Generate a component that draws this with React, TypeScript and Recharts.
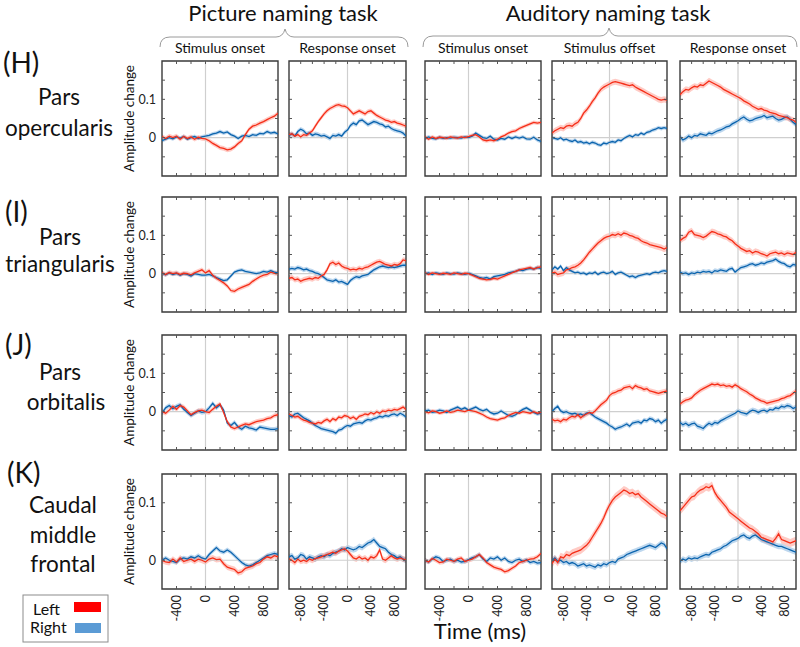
import { Area, ComposedChart, Line, ReferenceArea, ReferenceLine, XAxis, YAxis } from "recharts"

const FONT = "Lato, 'Noto Sans', sans-serif"

// time axes (ms): stimulus-locked and response/offset-locked panels
const tOnset = [
  -600, -550, -500, -450, -400, -350, -300, -250, -200, -150,
  -100, -50, 0, 50, 100, 150, 200, 250, 300, 350,
  400, 450, 500, 550, 600, 650, 700, 750, 800, 850,
  900, 950, 1000,
]
const tLocked = [
  -1000, -950, -900, -850, -800, -750, -700, -650, -600, -550,
  -500, -450, -400, -350, -300, -250, -200, -150, -100, -50,
  0, 50, 100, 150, 200, 250, 300, 350, 400, 450,
  500, 550, 600, 650, 700, 750, 800, 850, 900, 950,
  1000,
]

const columnTitles = ["Stimulus onset", "Response onset", "Stimulus onset", "Stimulus offset", "Response onset"]
const onsetTicks = [-400, -200, 0, 200, 400, 600, 800]
const lockedTicks = [-800, -600, -400, -200, 0, 200, 400, 600, 800]
const onsetLabels = [-400, 0, 400, 800]
const lockedLabels = [-800, -400, 0, 400, 800]
const yTicksWide = [-0.05, 0, 0.05, 0.1, 0.15]
const yTicksNarrow = [0, 0.05, 0.1]
const yLabelValues = [0, 0.1]

// (H) Pars opercularis
const opercularisLeft = [
  [0.003, -0.002, 0.004, 0, 0.004, -0.004, 0.003, -0.002, 0.002, -0.004,
   0.001, -0.002, -0.003, -0.008, -0.015, -0.02, -0.026, -0.028, -0.032, -0.03,
   -0.024, -0.015, -0.008, 0.008, 0.022, 0.03, 0.033, 0.038, 0.042, 0.047,
   0.052, 0.056, 0.064],
  [0.008, 0.01, 0.004, 0.008, 0.002, 0.008, 0.006, 0.012, 0.018, 0.03,
   0.042, 0.052, 0.062, 0.07, 0.076, 0.08, 0.084, 0.086, 0.083, 0.082,
   0.078, 0.07, 0.062, 0.066, 0.07, 0.066, 0.062, 0.068, 0.07, 0.064,
   0.058, 0.054, 0.05, 0.046, 0.044, 0.04, 0.042, 0.038, 0.036, 0.033,
   0.03],
  [0.002, -0.004, 0.002, -0.002, 0.001, 0, -0.002, 0.002, 0, -0.001,
   0.002, 0, 0.003, 0.006, 0.008, 0.002, -0.006, -0.008, -0.006, -0.008,
   -0.004, 0.002, 0.006, 0.012, 0.016, 0.018, 0.024, 0.028, 0.032, 0.036,
   0.04, 0.038, 0.04],
  [0.012, 0.018, 0.022, 0.026, 0.024, 0.03, 0.032, 0.03, 0.036, 0.04,
   0.05, 0.064, 0.072, 0.082, 0.094, 0.104, 0.116, 0.126, 0.132, 0.136,
   0.14, 0.144, 0.146, 0.144, 0.142, 0.14, 0.138, 0.136, 0.138, 0.132,
   0.128, 0.124, 0.12, 0.116, 0.112, 0.108, 0.104, 0.1, 0.098, 0.1,
   0.098],
  [0.112, 0.12, 0.126, 0.124, 0.13, 0.134, 0.132, 0.138, 0.136, 0.142,
   0.148, 0.144, 0.14, 0.136, 0.132, 0.126, 0.122, 0.118, 0.114, 0.11,
   0.106, 0.102, 0.096, 0.092, 0.088, 0.082, 0.078, 0.074, 0.076, 0.072,
   0.07, 0.066, 0.064, 0.062, 0.058, 0.056, 0.054, 0.052, 0.048, 0.046,
   0.04],
]
const opercularisRight = [
  [-0.008, -0.004, 0, -0.003, 0.002, -0.001, 0.003, -0.004, 0, 0.003,
   -0.002, 0.002, 0.004, 0.006, 0.01, 0.012, 0.016, 0.012, 0.015, 0.008,
   0.004, -0.002, 0.004, 0.006, 0.003, 0.008, 0.006, 0.011, 0.01, 0.016,
   0.012, 0.014, 0.01],
  [0.006, 0.01, 0.004, 0.016, 0.022, 0.018, 0.01, 0.012, 0.006, 0.01,
   0.008, 0.004, 0.006, 0.002, -0.002, 0.006, 0.004, 0.008, 0.004, 0.014,
   0.02, 0.032, 0.038, 0.034, 0.044, 0.046, 0.04, 0.034, 0.038, 0.042,
   0.04, 0.036, 0.034, 0.028, 0.03, 0.024, 0.02, 0.018, 0.016, 0.012,
   0.004],
  [-0.002, 0.002, -0.002, -0.003, 0.001, -0.002, 0, -0.001, 0.001, 0,
   -0.001, 0.002, 0, 0.004, 0.012, 0.006, 0, -0.002, 0.004, -0.004,
   -0.006, -0.002, -0.004, 0.002, -0.002, 0.002, -0.001, 0.002, -0.003, -0.004,
   0.001, -0.006, -0.01],
  [0, -0.002, -0.004, 0, -0.006, -0.004, -0.008, -0.01, -0.006, -0.012,
   -0.01, -0.014, -0.012, -0.016, -0.012, -0.014, -0.018, -0.02, -0.014, -0.016,
   -0.012, -0.01, -0.012, -0.006, -0.008, -0.002, 0.002, 0.006, 0.002, 0.008,
   0.006, 0.012, 0.008, 0.014, 0.016, 0.02, 0.022, 0.026, 0.024, 0.026,
   0.024],
  [0.002, -0.006, -0.002, 0.004, 0, 0.006, 0.004, 0.01, 0.008, 0.006,
   0.012, 0.01, 0.014, 0.018, 0.02, 0.024, 0.028, 0.03, 0.036, 0.04,
   0.044, 0.05, 0.054, 0.048, 0.044, 0.046, 0.05, 0.052, 0.054, 0.058,
   0.052, 0.054, 0.056, 0.05, 0.046, 0.048, 0.052, 0.054, 0.048, 0.04,
   0.034],
]

// (I) Pars triangularis
const triangularisLeft = [
  [0.002, -0.002, 0.003, 0, 0.002, -0.002, 0.001, 0, -0.003, 0.002,
   0.006, 0.01, 0.002, 0.008, -0.004, -0.012, -0.018, -0.024, -0.032, -0.044,
   -0.046, -0.04, -0.036, -0.032, -0.028, -0.02, -0.014, -0.008, -0.004, -0.002,
   0.004, 0.001, 0],
  [-0.012, -0.01, -0.016, -0.014, -0.02, -0.016, -0.014, -0.012, -0.014, -0.01,
   -0.012, -0.006, -0.002, 0.01, 0.026, 0.03, 0.024, 0.028, 0.02, 0.016,
   0.014, 0.01, 0.012, 0.01, 0.014, 0.012, 0.016, 0.018, 0.022, 0.026,
   0.03, 0.032, 0.028, 0.024, 0.022, 0.02, 0.024, 0.022, 0.026, 0.036,
   0.034],
  [0.002, -0.002, 0.002, 0, -0.002, 0.001, 0, -0.002, 0.002, 0,
   -0.002, 0.001, 0, -0.004, -0.008, -0.012, -0.014, -0.016, -0.015, -0.012,
   -0.014, -0.01, -0.006, -0.002, 0.002, 0.006, 0.01, 0.012, 0.014, 0.016,
   0.012, 0.016, 0.018],
  [0.002, 0.004, -0.002, 0, 0.002, 0.01, 0.012, 0.016, 0.018, 0.022,
   0.028, 0.036, 0.046, 0.056, 0.064, 0.072, 0.08, 0.086, 0.092, 0.096,
   0.098, 0.102, 0.1, 0.104, 0.1, 0.106, 0.104, 0.1, 0.098, 0.094,
   0.092, 0.086, 0.082, 0.08, 0.076, 0.074, 0.072, 0.07, 0.068, 0.064,
   0.068],
  [0.086, 0.092, 0.096, 0.108, 0.112, 0.102, 0.1, 0.098, 0.094, 0.098,
   0.104, 0.11, 0.108, 0.104, 0.102, 0.098, 0.096, 0.09, 0.086, 0.078,
   0.072, 0.066, 0.062, 0.058, 0.06, 0.054, 0.058, 0.056, 0.052, 0.05,
   0.046, 0.052, 0.054, 0.056, 0.052, 0.054, 0.05, 0.054, 0.052, 0.05,
   0.056],
]
const triangularisRight = [
  [0.001, -0.003, 0.002, -0.002, 0.001, -0.004, 0, -0.002, -0.006, 0,
   -0.002, -0.004, -0.004, -0.002, -0.006, -0.01, -0.014, -0.018, -0.016, -0.006,
   0.004, 0.008, 0.01, 0.006, 0.004, 0.002, 0, 0.002, 0.006, 0.004,
   0.008, 0.004, 0.002],
  [0.012, 0.014, 0.012, 0.016, 0.014, 0.01, 0.012, 0.008, 0.006, 0.002,
   0, -0.004, -0.01, -0.016, -0.018, -0.02, -0.016, -0.022, -0.02, -0.024,
   -0.028, -0.018, -0.012, -0.008, -0.01, -0.006, -0.004, -0.002, 0.004, 0.01,
   0.014, 0.018, 0.02, 0.018, 0.016, 0.018, 0.016, 0.018, 0.02, 0.022,
   0.022],
  [0, 0.002, -0.002, 0.002, 0, -0.002, 0.002, 0, -0.001, 0.002,
   0, -0.002, 0.001, -0.002, -0.006, -0.01, -0.012, -0.01, -0.014, -0.008,
   -0.006, -0.004, -0.002, 0.002, 0.004, 0.006, 0.01, 0.008, 0.012, 0.014,
   0.012, 0.016, 0.014],
  [0.01, 0.018, 0.012, 0.02, 0.008, 0.016, 0.01, 0.006, 0.002, 0.004,
   0, 0.002, -0.002, 0.002, 0, 0.004, -0.002, 0.002, 0.004, 0,
   0.002, 0.006, -0.002, 0.002, 0.004, 0, -0.004, -0.008, -0.006, -0.01,
   -0.006, -0.004, -0.002, 0, -0.002, 0.002, 0.004, 0.002, 0.006, 0.008,
   0.006],
  [0.004, 0, 0.002, -0.002, 0.002, 0, 0.004, 0.002, 0.006, 0.004,
   0.006, 0.002, 0.008, 0.006, 0.01, 0.008, 0.006, 0.012, 0.014, 0.004,
   0.01, 0.016, 0.018, 0.02, 0.024, 0.026, 0.022, 0.024, 0.028, 0.026,
   0.03, 0.032, 0.034, 0.038, 0.032, 0.028, 0.026, 0.02, 0.018, 0.024,
   0.022],
]

// (J) Pars orbitalis
const orbitalisLeft = [
  [0, -0.004, 0.004, 0.014, 0.006, 0.016, 0.012, 0.002, -0.008, -0.002,
   0.002, 0.004, 0, -0.002, 0.006, 0.014, 0.02, -0.002, -0.026, -0.04,
   -0.044, -0.04, -0.036, -0.032, -0.034, -0.03, -0.026, -0.024, -0.022, -0.018,
   -0.016, -0.01, -0.008],
  [-0.006, -0.01, -0.014, -0.012, -0.018, -0.022, -0.024, -0.028, -0.03, -0.032,
   -0.028, -0.03, -0.024, -0.02, -0.026, -0.018, -0.022, -0.014, -0.016, -0.01,
   -0.012, -0.018, -0.014, -0.02, -0.012, -0.01, -0.006, -0.008, -0.002, -0.006,
   0, -0.004, 0.002, 0, 0.004, 0.002, 0.006, 0.004, 0.008, 0.012,
   0.006],
  [0, -0.003, 0.002, 0, -0.004, -0.002, 0.002, -0.002, 0, 0.004,
   0.002, 0, 0.004, 0.002, 0, -0.004, -0.008, -0.014, -0.018, -0.02,
   -0.022, -0.018, -0.016, -0.01, -0.006, -0.002, -0.004, 0, -0.002, -0.004,
   0, -0.004, -0.002],
  [-0.02, -0.024, -0.022, -0.026, -0.02, -0.022, -0.016, -0.012, -0.014, -0.008,
   -0.016, -0.01, -0.006, -0.002, -0.004, 0.002, 0.01, 0.018, 0.024, 0.03,
   0.042, 0.048, 0.05, 0.054, 0.056, 0.062, 0.064, 0.066, 0.06, 0.068,
   0.064, 0.062, 0.058, 0.06, 0.054, 0.052, 0.05, 0.048, 0.05, 0.052,
   0.054],
  [0.02, 0.026, 0.03, 0.032, 0.036, 0.044, 0.05, 0.056, 0.06, 0.064,
   0.068, 0.072, 0.07, 0.072, 0.068, 0.07, 0.066, 0.068, 0.064, 0.07,
   0.066, 0.06, 0.056, 0.052, 0.046, 0.042, 0.036, 0.032, 0.028, 0.026,
   0.022, 0.024, 0.026, 0.028, 0.03, 0.034, 0.036, 0.04, 0.042, 0.048,
   0.054],
]
const orbitalisRight = [
  [-0.004, 0.01, 0.016, 0.008, 0.014, 0.018, 0.006, -0.002, -0.01, -0.004,
   0.002, -0.002, 0, 0.01, 0.022, 0.01, 0.018, 0.004, -0.03, -0.036,
   -0.028, -0.04, -0.046, -0.038, -0.042, -0.044, -0.048, -0.04, -0.042, -0.044,
   -0.046, -0.046, -0.044],
  [-0.01, -0.014, -0.006, -0.004, -0.01, -0.016, -0.02, -0.024, -0.03, -0.036,
   -0.04, -0.044, -0.046, -0.048, -0.05, -0.052, -0.056, -0.048, -0.046, -0.04,
   -0.036, -0.038, -0.032, -0.03, -0.028, -0.03, -0.024, -0.02, -0.022, -0.018,
   -0.016, -0.012, -0.014, -0.01, -0.012, -0.008, -0.006, -0.01, -0.004, -0.008,
   -0.014],
  [0.002, 0.004, -0.002, 0, 0.004, 0.002, -0.002, 0.004, 0.008, 0.012,
   0.006, 0.01, 0.004, 0.008, 0.012, 0.006, 0.002, 0.006, -0.002, -0.006,
   -0.004, 0.002, -0.004, -0.01, -0.012, -0.008, 0, 0.006, 0.01, 0.004,
   -0.002, -0.006, -0.004],
  [0, 0.008, 0.014, 0.002, -0.002, 0, -0.004, -0.006, -0.004, -0.008,
   -0.006, -0.01, -0.004, -0.002, -0.008, -0.014, -0.018, -0.022, -0.026, -0.03,
   -0.036, -0.04, -0.046, -0.042, -0.04, -0.036, -0.032, -0.038, -0.03, -0.028,
   -0.026, -0.03, -0.022, -0.024, -0.018, -0.02, -0.026, -0.022, -0.03, -0.024,
   -0.02],
  [-0.028, -0.034, -0.03, -0.036, -0.032, -0.03, -0.038, -0.04, -0.044, -0.036,
   -0.03, -0.034, -0.028, -0.03, -0.024, -0.02, -0.016, -0.012, -0.008, -0.004,
   0.002, -0.002, -0.004, -0.006, 0, 0.004, 0.002, -0.002, 0.002, 0.004,
   0, 0.006, 0.004, 0.01, 0.008, 0.014, 0.012, 0.016, 0.014, 0.008,
   0.012],
]

// (K) Caudal middle frontal
const caudalLeft = [
  [0, -0.003, -0.004, 0.002, -0.003, 0.004, -0.002, 0, 0.002, -0.002,
   0.002, 0, -0.003, 0.002, 0.004, 0.001, 0.002, -0.006, -0.012, -0.014,
   -0.016, -0.022, -0.02, -0.014, -0.012, -0.01, -0.006, -0.004, 0.002, 0.006,
   0.004, 0.008, 0.006],
  [0.002, 0, -0.004, 0.002, -0.002, 0, -0.002, 0.002, 0, 0.003,
   0.004, 0.006, 0.008, 0.01, 0.012, 0.014, 0.012, 0.016, 0.018, 0.02,
   0.016, 0.01, 0.004, 0.002, 0.006, 0.002, 0.004, 0, 0.006, 0.004,
   0.008, 0.018, 0.002, 0, 0.004, 0.008, 0.004, 0.002, 0.004, 0.002,
   0.001],
  [0, -0.003, 0.003, 0, -0.004, -0.003, 0.002, 0, -0.002, 0.002,
   0.004, -0.002, 0, 0.002, 0.006, 0.01, 0.004, -0.004, -0.008, -0.012,
   -0.014, -0.016, -0.02, -0.018, -0.014, -0.01, -0.004, -0.002, 0, 0.002,
   0.003, 0.006, 0.012],
  [-0.006, 0.002, -0.004, 0.006, 0.004, 0.01, 0.008, 0.012, 0.014, 0.016,
   0.018, 0.022, 0.026, 0.032, 0.04, 0.048, 0.056, 0.064, 0.074, 0.086,
   0.096, 0.104, 0.11, 0.114, 0.118, 0.122, 0.12, 0.116, 0.118, 0.114,
   0.116, 0.11, 0.106, 0.102, 0.098, 0.094, 0.09, 0.086, 0.082, 0.08,
   0.076],
  [0.086, 0.092, 0.098, 0.104, 0.11, 0.112, 0.118, 0.122, 0.124, 0.128,
   0.126, 0.13, 0.118, 0.11, 0.104, 0.098, 0.092, 0.084, 0.08, 0.076,
   0.072, 0.068, 0.064, 0.06, 0.056, 0.054, 0.05, 0.046, 0.04, 0.038,
   0.036, 0.034, 0.032, 0.038, 0.046, 0.036, 0.034, 0.032, 0.03, 0.032,
   0.034],
]
const caudalRight = [
  [0, 0.004, 0, -0.002, -0.004, 0.002, 0.004, 0.002, 0.006, 0.004,
   0.008, 0.004, 0.002, 0.01, 0.016, 0.022, 0.016, 0.014, 0.018, 0.014,
   0.008, 0.002, -0.004, -0.008, -0.01, -0.008, -0.004, 0, 0.004, 0.008,
   0.01, 0.012, 0.01],
  [0.006, 0.008, 0.002, 0.004, 0.01, 0.008, 0.002, 0.006, 0.004, 0.002,
   0.006, 0.008, 0.006, 0.01, 0.008, 0.012, 0.014, 0.016, 0.02, 0.018,
   0.022, 0.02, 0.018, 0.02, 0.024, 0.022, 0.026, 0.03, 0.032, 0.036,
   0.03, 0.024, 0.022, 0.02, 0.014, 0.01, 0.008, 0.004, 0.006, 0.002,
   0],
  [0, -0.003, 0.002, 0.006, 0.004, -0.002, 0, 0.002, -0.002, 0,
   -0.003, -0.002, 0.001, 0.004, 0.006, 0.01, 0.002, -0.002, 0.004, 0.002,
   0.006, 0, 0.004, -0.002, -0.004, 0, 0.002, -0.002, 0.001, -0.004,
   -0.002, -0.005, -0.004],
  [0, 0.004, -0.002, 0, -0.004, -0.002, -0.006, -0.004, -0.006, -0.01,
   -0.008, -0.006, -0.01, -0.008, -0.01, -0.012, -0.008, -0.01, -0.006, -0.008,
   -0.004, -0.002, -0.004, 0.002, 0.004, 0.006, 0.01, 0.012, 0.014, 0.016,
   0.018, 0.02, 0.022, 0.024, 0.026, 0.024, 0.022, 0.026, 0.03, 0.028,
   0.02],
  [-0.002, 0.002, 0, 0.004, 0.002, 0.004, 0.003, 0.006, 0.008, 0.01,
   0.009, 0.014, 0.016, 0.018, 0.02, 0.024, 0.026, 0.03, 0.034, 0.036,
   0.038, 0.042, 0.044, 0.04, 0.038, 0.042, 0.044, 0.04, 0.036, 0.034,
   0.032, 0.03, 0.028, 0.026, 0.024, 0.024, 0.022, 0.02, 0.018, 0.016,
   0.014],
]

// half-width of the shaded error band, per panel
const opercularisSemL = [0.006, 0.006, 0.005, 0.008, 0.008]
const opercularisSemR = [0.005, 0.006, 0.005, 0.005, 0.007]
const triangularisSemL = [0.006, 0.007, 0.005, 0.008, 0.008]
const triangularisSemR = [0.005, 0.006, 0.005, 0.005, 0.006]
const orbitalisSemL = [0.006, 0.006, 0.005, 0.007, 0.007]
const orbitalisSemR = [0.006, 0.006, 0.005, 0.006, 0.007]
const caudalSemL = [0.005, 0.005, 0.004, 0.007, 0.007]
const caudalSemR = [0.004, 0.005, 0.004, 0.005, 0.005]

const rows = [
  { left: opercularisLeft, right: opercularisRight, semL: opercularisSemL, semR: opercularisSemR, domain: [-0.1, 0.2], ticks: yTicksWide },
  { left: triangularisLeft, right: triangularisRight, semL: triangularisSemL, semR: triangularisSemR, domain: [-0.1, 0.2], ticks: yTicksWide },
  { left: orbitalisLeft, right: orbitalisRight, semL: orbitalisSemL, semR: orbitalisSemR, domain: [-0.1, 0.2], ticks: yTicksWide },
  { left: caudalLeft, right: caudalRight, semL: caudalSemL, semR: caudalSemR, domain: [-0.05, 0.15], ticks: yTicksNarrow },
]

const columnTimes = [tOnset, tLocked, tOnset, tLocked, tLocked]
const columnDomain = [[-600, 1000], [-1000, 1000], [-600, 1000], [-1000, 1000], [-1000, 1000]]
const columnTicks = [onsetTicks, lockedTicks, onsetTicks, lockedTicks, lockedTicks]
const columnLabels = [onsetLabels, lockedLabels, onsetLabels, lockedLabels, lockedLabels]

// layout
const colX = [162, 289, 425, 552, 680]
const colW = [116, 117, 116, 115, 116]
const rowY = [61, 197, 335, 474]
const PANEL_H = 115

const RED = "#f52e18"
const BLUE = "#0b64ae"
const TICK = "#555"

function XTick(props: any) {
  const { x, y, payload, h, labels } = props
  const v = payload.value
  return (
    <g>
      <line x1={x} x2={x} y1={y} y2={y - 3} stroke={TICK} />
      <line x1={x} x2={x} y1={y - h} y2={y - h + 3} stroke={TICK} />
      {labels.includes(v) && (
        <text
          transform={`translate(${x},${y + 6}) rotate(-90)`}
          textAnchor="end"
          dy="0.35em"
          fontSize={12.5}
          fill="#222"
          fontFamily={FONT}
        >
          {v}
        </text>
      )}
    </g>
  )
}

function YTick(props: any) {
  const { x, y, payload, w, labels } = props
  const v = payload.value
  return (
    <g>
      <line x1={x} x2={x + 3} y1={y} y2={y} stroke={TICK} />
      <line x1={x + w} x2={x + w - 3} y1={y} y2={y} stroke={TICK} />
      {labels.includes(v) && (
        <text x={x - 6} y={y} dy="0.35em" textAnchor="end" fontSize={12.5} fill="#222" fontFamily={FONT}>
          {v}
        </text>
      )}
    </g>
  )
}

function Panel({ row, col }: { row: number; col: number }) {
  const r = rows[row]
  const sL = r.semL[col]
  const sR = r.semR[col]
  const data = columnTimes[col].map((t, i) => {
    const L = r.left[col][i]
    const R = r.right[col][i]
    return { t, L, R, Lb: [L - sL, L + sL], Rb: [R - sR, R + sR] }
  })
  const w = colW[col]
  const h = PANEL_H
  const ml = col === 0 ? 34 : 3
  const mb = row === 3 ? 34 : 3
  const mt = 3
  const mr = 3
  const xd = columnDomain[col]
  const yd = r.domain
  const xLabels = row === 3 ? columnLabels[col] : []
  const yLabels = col === 0 ? yLabelValues : []

  // axes get 1px of room each (a 0-size axis is not drawn), taken out of the margins
  return (
    <div style={{ position: "absolute", left: colX[col] - ml, top: rowY[row] - mt }}>
      <ComposedChart
        width={w + ml + mr}
        height={h + mt + mb}
        data={data}
        margin={{ top: mt, right: mr, bottom: mb - 1, left: ml - 1 }}
      >
        <XAxis
          dataKey="t"
          type="number"
          domain={xd}
          ticks={columnTicks[col]}
          interval={0}
          height={1}
          tickSize={0}
          tickMargin={0}
          axisLine={false}
          tickLine={false}
          allowDataOverflow
          tick={(p: any) => <XTick {...p} h={h} labels={xLabels} />}
        />
        <YAxis
          type="number"
          domain={yd}
          ticks={r.ticks}
          interval={0}
          width={1}
          tickSize={0}
          tickMargin={0}
          axisLine={false}
          tickLine={false}
          allowDataOverflow
          tick={(p: any) => <YTick {...p} w={w} labels={yLabels} />}
        />
        <ReferenceLine x={0} stroke="#cfcfcf" strokeWidth={1.2} />
        <ReferenceLine y={0} stroke="#cfcfcf" strokeWidth={1.2} />
        <Area dataKey="Rb" stroke="none" fill="#5b9bd5" fillOpacity={0.4} isAnimationActive={false} />
        <Area dataKey="Lb" stroke="none" fill="#ff4530" fillOpacity={0.28} isAnimationActive={false} />
        <Line dataKey="R" stroke={BLUE} strokeWidth={1.3} dot={false} isAnimationActive={false} />
        <Line dataKey="L" stroke={RED} strokeWidth={1.3} dot={false} isAnimationActive={false} />
        <ReferenceArea x1={xd[0]} x2={xd[1]} y1={yd[0]} y2={yd[1]} fill="none" fillOpacity={0} stroke="#3a3a3a" strokeWidth={1.4} />
      </ComposedChart>
    </div>
  )
}

const rowLabels = [
  { tag: "(H)", tagX: 3, tagY: 73, lines: [{ s: "Pars", x: 59, y: 105 }, { s: "opercularis", x: 59, y: 136 }] },
  { tag: "(I)", tagX: 5, tagY: 222, lines: [{ s: "Pars", x: 60, y: 245 }, { s: "triangularis", x: 60, y: 272 }] },
  { tag: "(J)", tagX: 5, tagY: 355, lines: [{ s: "Pars", x: 60, y: 380 }, { s: "orbitalis", x: 66, y: 410 }] },
  { tag: "(K)", tagX: 7, tagY: 483, lines: [{ s: "Caudal", x: 63, y: 513 }, { s: "middle", x: 63, y: 543 }, { s: "frontal", x: 63, y: 572 }] },
]

function Overlay() {
  return (
    <svg width={800} height={647} style={{ position: "absolute", left: 0, top: 0, pointerEvents: "none" }} fontFamily={FONT}>
      <text x={283} y={21} textAnchor="middle" fontSize={22} fill="#111">Picture naming task</text>
      <text x={608} y={21} textAnchor="middle" fontSize={22} fill="#111">Auditory naming task</text>
      <path d="M160,47 Q160,37 170,37 L276,37 Q283,37 285,29 Q287,37 294,37 L398,37 Q408,37 408,47" fill="none" stroke="#9a9a9a" />
      <path d="M423,47 Q423,36 433,36 L600,36 Q607,36 609,28 Q611,36 618,36 L787,36 Q797,36 797,47" fill="none" stroke="#9a9a9a" />
      {columnTitles.map((s, c) => (
        <text key={c} x={colX[c] + colW[c] / 2} y={53} textAnchor="middle" fontSize={14} fill="#111">{s}</text>
      ))}
      {rowLabels.map((r, i) => (
        <g key={i}>
          <text x={r.tagX} y={r.tagY} fontSize={28} fill="#111">{r.tag}</text>
          {r.lines.map((l, j) => (
            <text key={j} x={l.x} y={l.y} textAnchor="middle" fontSize={22.5} fill="#111">{l.s}</text>
          ))}
          <text transform={`translate(134,${rowY[i] + PANEL_H / 2}) rotate(-90)`} textAnchor="middle" fontSize={13.5} fill="#111">
            Amplitude change
          </text>
        </g>
      ))}
      <text x={480} y={639} textAnchor="middle" fontSize={22} fill="#111">Time (ms)</text>
      <rect x={23} y={595} width={85} height={47} fill="#fff" stroke="#8c8c8c" />
      <text x={33} y={615} fontSize={16} fill="#111">Left</text>
      <rect x={74} y={602} width={27} height={10} fill="#ff0000" />
      <text x={30} y={633} fontSize={16} fill="#111">Right</text>
      <rect x={75} y={623} width={26} height={10} fill="#5b9bd5" />
    </svg>
  )
}

export default function App() {
  return (
    <div style={{ position: "absolute", left: 0, top: 0, width: 800, height: 647, background: "#fff", overflow: "hidden" }}>
      {rows.map((_, r) => columnTimes.map((__, c) => <Panel key={`${r}-${c}`} row={r} col={c} />))}
      <Overlay />
    </div>
  )
}
